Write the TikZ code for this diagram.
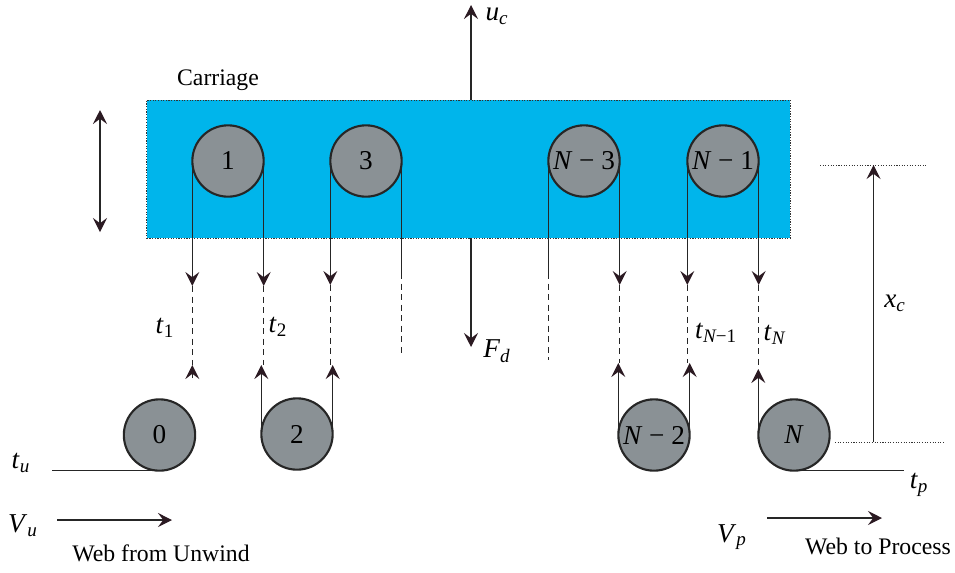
\documentclass[tikz,border=0pt]{standalone}
\usepackage{fontspec}
\setmainfont{Liberation Serif}
\usetikzlibrary{arrows.meta}
\definecolor{carriageblue}{HTML}{00B5EB}
\definecolor{pulleygray}{HTML}{8A9195}
\definecolor{tipdark}{HTML}{2B1A22}
\newcommand{\sym}[2]{\textit{#1}\textsubscript{\textit{#2}}}

\begin{document}
\begin{tikzpicture}[x=0.02cm,y=-0.02cm,font=\fontsize{13.5}{16}\selectfont,
        pulley/.style={circle,draw=black!85,line width=1.2pt,fill=pulleygray,minimum size=40.6pt,inner sep=0pt,outer sep=0pt,font=\fontsize{15.5}{18}\selectfont},
        web/.style={draw=black!85,line width=0.65pt},
        webarrow/.style={web,-{Stealth[inset=3pt,length=8pt,width=8pt,color=tipdark]}},
        webdash/.style={web,dash pattern=on 3.5pt off 2.5pt},
        levelline/.style={draw=black!80,line width=0.55pt,dash pattern=on 0.6pt off 0.9pt},
        tag/.style={inner sep=0pt},
        symtag/.style={inner sep=0pt,font=\fontsize{15.5}{18}\selectfont}]

    \useasboundingbox (0,0) rectangle (955,572);

    \node[draw=black!80,line width=0.5pt,dash pattern=on 0.7pt off 0.8pt,fill=carriageblue,minimum width=366.2pt,minimum height=78.6pt,inner sep=0pt,outer sep=0pt] (carriage) at (468.5,169) {};
    \node[tag] (carriagelabel) at (218,80) {Carriage};

    \node[pulley] (p1) at (228,161) {1};
    \node[pulley] (p3) at (366,161) {3};
    \node[pulley] (pn3) at (584,161) {\textit{N} − 3};
    \node[pulley] (pn1) at (723,161) {\textit{N} − 1};
    \node[pulley] (p0) at (159.5,435) {0};
    \node[pulley] (p2) at (297,434) {2};
    \node[pulley] (pn2) at (654,435) {\textit{N} − 2};
    \node[pulley] (pn) at (794,435) {\textit{N}};

    \coordinate (a1) at (p1.west |- 0,286);
    \coordinate (a2) at (p1.east |- 0,286);
    \coordinate (a3) at (p3.west |- 0,285);
    \coordinate (a4) at (p3.east |- 0,273);
    \coordinate (a5) at (pn3.west |- 0,273);
    \coordinate (a6) at (pn3.east |- 0,285);
    \coordinate (a7) at (pn1.west |- 0,285);
    \coordinate (a8) at (pn1.east |- 0,285);
    \coordinate (b1) at (a1 |- 0,365);
    \coordinate (b2) at (a2 |- 0,365);
    \coordinate (b3) at (a3 |- 0,365);
    \coordinate (b4) at (a4 |- 0,357);
    \coordinate (b5) at (a5 |- 0,360);
    \coordinate (b6) at (a6 |- 0,363);
    \coordinate (b7) at (a7 |- 0,363);
    \coordinate (b8) at (a8 |- 0,369);
    \coordinate (c1) at (a1 |- 0,378);

    % webs going down from the carriage
    \draw[webarrow] (p1.west) -- (a1);
    \draw[webarrow] (p1.east) -- (a2);
    \draw[webarrow] (p3.west) -- (a3);
    \draw[web] (p3.east) -- (a4);
    \draw[web] (pn3.west) -- (a5);
    \draw[webarrow] (pn3.east) -- (a6);
    \draw[webarrow] (pn1.west) -- (a7);
    \draw[webarrow] (pn1.east) -- (a8);

    \draw[webdash] (a1) -- (b1);
    \draw[webdash] (a2) -- (b2);
    \draw[webdash] (a3) -- (b3);
    \draw[webdash] (a4) -- (b4);
    \draw[webdash] (a5) -- (b5);
    \draw[webdash] (a6) -- (b6);
    \draw[webdash] (a7) -- (b7);
    \draw[webdash] (a8) -- (b8);

    % webs going up from the fixed rollers
    \draw[webarrow] (c1) -- (b1);
    \draw[webarrow] (p2.west) -- (p2.west |- b2);
    \draw[webarrow] (p2.east) -- (p2.east |- b3);
    \draw[webarrow] (pn2.west) -- (pn2.west |- b6);
    \draw[webarrow] (pn2.east) -- (pn2.east |- b7);
    \draw[webarrow] (pn.west) -- (pn.west |- b8);

    % web in and out
    \coordinate (inend) at (p0.south -| 52,0);
    \coordinate (outend) at (pn.south -| 904,0);
    \draw[web] (inend) -- (p0.south);
    \draw[web] (pn.south) -- (outend);

    % carriage motion and force
    \coordinate (ucend) at (471,5);
    \coordinate (fdend) at (471,347);
    \coordinate (strokeup) at (100,110);
    \coordinate (strokedown) at (100,232);
    \draw[webarrow] (ucend |- carriage.north) -- (ucend);
    \draw[webarrow] (fdend |- carriage.south) -- (fdend);
    \draw[web,{Stealth[inset=3pt,length=8pt,width=8pt,color=tipdark]}-{Stealth[inset=3pt,length=8pt,width=8pt,color=tipdark]}] (strokeup) -- (strokedown);

    % carriage position
    \coordinate (topl) at (820,165);
    \coordinate (topr) at (928,165);
    \coordinate (botl) at (835,442);
    \coordinate (botr) at (944,442);
    \coordinate (xtop) at (873.5,165);
    \coordinate (xbot) at (873.5,442);
    \draw[levelline] (topl) -- (topr);
    \draw[levelline] (botl) -- (botr);
    \draw[webarrow] (xbot) -- (xtop);

    % web speeds
    \coordinate (vua) at (57,520);
    \coordinate (vub) at (172,520);
    \coordinate (vpa) at (767,518);
    \coordinate (vpb) at (882,518);
    \draw[webarrow] (vua) -- (vub);
    \draw[webarrow] (vpa) -- (vpb);

    \node[symtag] (uc) at (497,16) {\sym{u}{c}};
    \node[symtag] (fd) at (497,351) {\sym{F}{d}};
    \node[symtag] (t1) at (165,328) {\sym{t}{\upshape 1}};
    \node[symtag] (t2) at (278,327) {\sym{t}{\upshape 2}};
    \node[symtag] (tn1) at (716,333) {\sym{t}{N\upshape −1}};
    \node[symtag] (tn) at (775,335) {\sym{t}{N}};
    \node[symtag] (xc) at (895,303) {\sym{x}{c}};
    \node[symtag] (tu) at (21,463) {\sym{t}{u}};
    \node[symtag] (tp) at (919,485) {\sym{t}{p}};
    \node[symtag] (vu) at (23,526) {\sym{V}{u}};
    \node[symtag] (vp) at (732,537) {\sym{V}{p}};
    \node[tag] (unwind) at (161,553) {Web from Unwind};
    \node[tag] (process) at (878,546) {Web to Process};
\end{tikzpicture}
\end{document}
